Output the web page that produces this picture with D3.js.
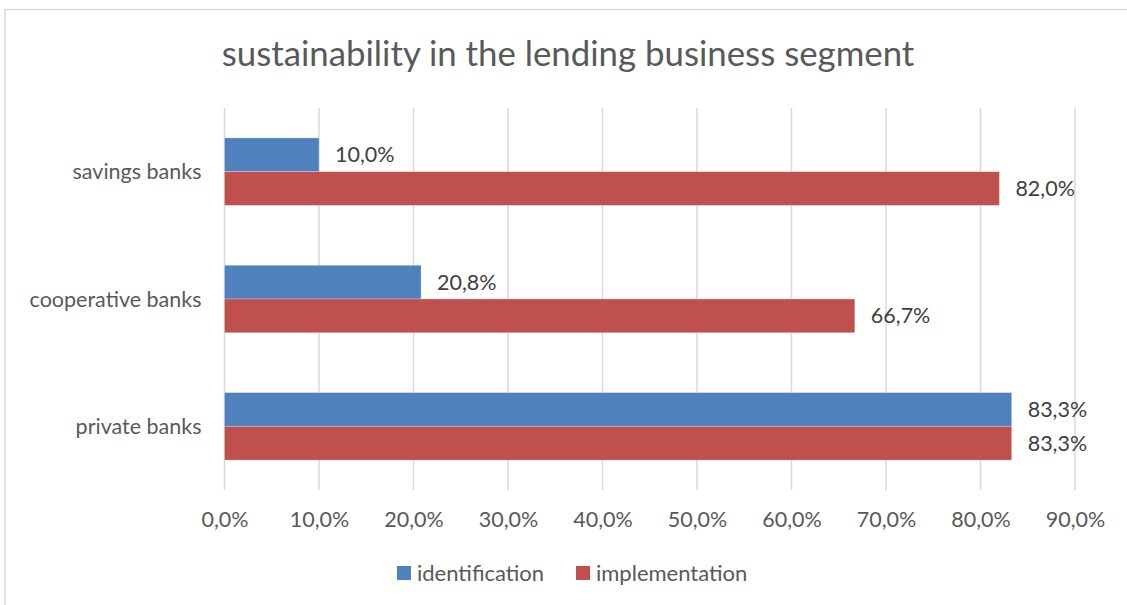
<!DOCTYPE html>
<html>
<head>
<meta charset="utf-8">
<script src="https://cdn.jsdelivr.net/npm/d3@7"></script>
<style>
  html, body { margin: 0; padding: 0; background: #fff; }
  svg { display: block; font-family: Lato, "Open Sans", sans-serif; }
</style>
</head>
<body>
<svg id="chart" width="1127" height="605"></svg>
<script>
// Lending-business sustainability by bank group
const categories = ["savings banks", "cooperative banks", "private banks"];
const seriesNames = ["identification", "implementation"];
const identification = [10.0, 20.8, 83.3];
const implementation = [82.0, 66.7, 83.3];
const xTicks = [0, 10, 20, 30, 40, 50, 60, 70, 80, 90];
const colors = ["#4F81BD", "#C0504D"];

const svg = d3.select("#chart");
const W = 1127, H = 605;
const fmt = v => d3.format(".1f")(v).replace(".", ",") + "%";

// chart frame
svg.append("rect")
  .attr("x", 5).attr("y", 9.5)
  .attr("width", W + 10).attr("height", H + 10)
  .attr("fill", "#fff").attr("stroke", "#D9D9D9").attr("stroke-width", 1.5);

const plot = { left: 224.5, right: 1075, top: 108, bottom: 490 };

const x = d3.scaleLinear().domain([0, 90]).range([plot.left, plot.right]);
const y = d3.scaleBand().domain(categories).range([plot.top, plot.bottom]).paddingInner(0.47).paddingOuter(0.235);
const ySub = d3.scaleBand().domain(seriesNames).range([0, y.bandwidth()]);

// title
svg.append("text")
  .attr("x", 568).attr("y", 66)
  .attr("text-anchor", "middle")
  .attr("font-size", 34.8)
  .attr("fill", "#595959")
  .text("sustainability in the lending business segment");

// vertical gridlines
svg.append("g")
  .selectAll("line")
  .data(xTicks)
  .join("line")
  .attr("x1", d => x(d)).attr("x2", d => x(d))
  .attr("y1", plot.top).attr("y2", plot.bottom)
  .attr("stroke", "#D9D9D9").attr("stroke-width", 1.5);

// x axis labels
const xAxis = d3.axisBottom(x).tickValues(xTicks).tickSize(0).tickPadding(0).tickFormat(fmt);
const gx = svg.append("g").attr("transform", `translate(0,${plot.bottom})`).call(xAxis);
gx.select(".domain").remove();
gx.selectAll("text")
  .attr("dy", null).attr("y", 37)
  .attr("font-family", "Lato, 'Open Sans', sans-serif")
  .attr("font-size", 21.5).attr("fill", "#595959");

// y axis labels
const yAxis = d3.axisLeft(y).tickSize(0).tickPadding(0);
const gy = svg.append("g").attr("transform", `translate(${plot.left - 23},0)`).call(yAxis);
gy.select(".domain").remove();
gy.selectAll("text")
  .attr("dy", "0.35em")
  .attr("font-family", "Lato, 'Open Sans', sans-serif")
  .attr("font-size", 21.5).attr("fill", "#595959");

// bars
const rows = categories.map((c, i) => ({
  cat: c,
  vals: [
    { s: seriesNames[0], v: identification[i], c: colors[0] },
    { s: seriesNames[1], v: implementation[i], c: colors[1] }
  ]
}));

const groups = svg.append("g").selectAll("g")
  .data(rows)
  .join("g")
  .attr("transform", d => `translate(0,${y(d.cat)})`);

groups.selectAll("rect")
  .data(d => d.vals)
  .join("rect")
  .attr("x", x(0))
  .attr("y", d => ySub(d.s))
  .attr("width", d => x(d.v) - x(0))
  .attr("height", ySub.bandwidth())
  .attr("fill", d => d.c)
  .attr("stroke", "#fff").attr("stroke-opacity", 0.35).attr("stroke-width", 0.75);

groups.selectAll("text")
  .data(d => d.vals)
  .join("text")
  .attr("x", d => x(d.v) + 16)
  .attr("y", d => ySub(d.s) + ySub.bandwidth() / 2)
  .attr("dy", "0.35em")
  .attr("font-size", 21.5)
  .attr("fill", "#404040")
  .text(d => fmt(d.v));

// legend
const legendX = [397, 576];
const legend = svg.append("g").selectAll("g")
  .data(seriesNames)
  .join("g")
  .attr("transform", (d, i) => `translate(${legendX[i]},566)`);
legend.append("rect")
  .attr("width", 14).attr("height", 14)
  .attr("fill", (d, i) => colors[i]);
legend.append("text")
  .attr("x", 20).attr("y", 7).attr("dy", "0.35em")
  .attr("font-size", 22).attr("fill", "#595959")
  .text(d => d);
</script>
</body>
</html>
